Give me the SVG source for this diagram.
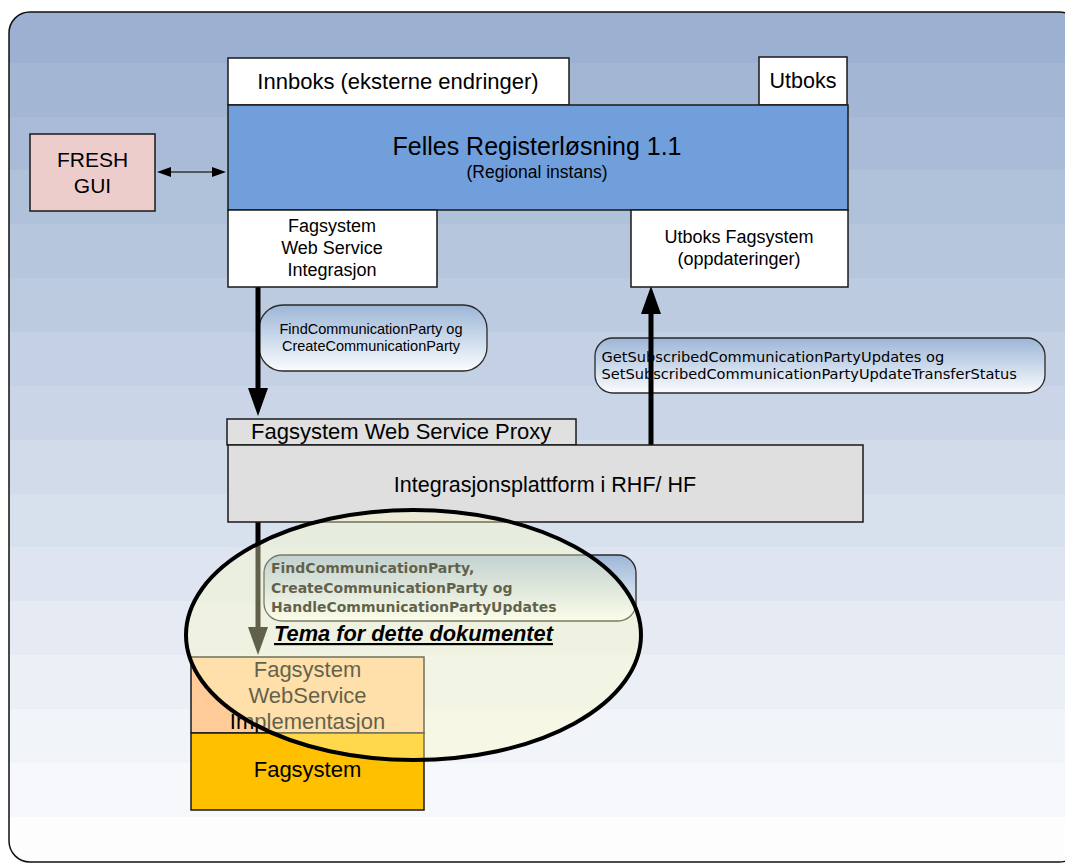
<svg xmlns="http://www.w3.org/2000/svg" width="1065" height="863" viewBox="0 0 1065 863">
  <style>
    .box { stroke: #1a1a1a; stroke-width: 1.5; }
    .white { fill: #ffffff; }
    .gray { fill: #dfdfdf; }
    .t { font-family: "Liberation Sans", Arial, sans-serif; fill: #000; }
    .mid { text-anchor: middle; }
    .callout { fill: url(#calloutFill); stroke: #2a2a2a; stroke-width: 1.3; }
    .v { font-family: "DejaVu Sans", Verdana, sans-serif; fill: #000; }
    .flow { stroke: #000; stroke-width: 5; fill: none; marker-end: url(#bigHead); }
  </style>
  <defs>
    <clipPath id="panelClip">
      <rect x="9" y="12" width="1071" height="850" rx="21" ry="21"/>
    </clipPath>
    <linearGradient id="calloutFill" x1="0" y1="0" x2="0" y2="1">
      <stop offset="0" stop-color="#9db6d7"/>
      <stop offset="0.55" stop-color="#cfdcec"/>
      <stop offset="1" stop-color="#fbfcfe"/>
    </linearGradient>
    <marker id="bigHead" viewBox="0 0 28 20" markerUnits="userSpaceOnUse" markerWidth="28" markerHeight="20" refX="1" refY="10" orient="auto">
      <path d="M0,0 L28,10 L0,20 Z" fill="#000"/>
    </marker>
    <marker id="smallHead" viewBox="0 0 14 10" markerUnits="userSpaceOnUse" markerWidth="14" markerHeight="10" refX="1" refY="5" orient="auto-start-reverse">
      <path d="M0,0 L14,5 L0,10 Z" fill="#000"/>
    </marker>
  </defs>

  <!-- banded background panel -->
  <g id="panel" clip-path="url(#panelClip)">
    <rect x="0" y="12" width="1080" height="51" fill="#9cb1d1"/>
    <rect x="0" y="63" width="1080" height="54" fill="#a3b6d4"/>
    <rect x="0" y="117" width="1080" height="53" fill="#a9bbd7"/>
    <rect x="0" y="170" width="1080" height="54" fill="#b0c1da"/>
    <rect x="0" y="224" width="1080" height="54" fill="#b6c6dd"/>
    <rect x="0" y="278" width="1080" height="54" fill="#bdcbe0"/>
    <rect x="0" y="332" width="1080" height="54" fill="#c4d0e3"/>
    <rect x="0" y="386" width="1080" height="54" fill="#cad5e7"/>
    <rect x="0" y="440" width="1080" height="54" fill="#d1dbea"/>
    <rect x="0" y="494" width="1080" height="53" fill="#d7e0ed"/>
    <rect x="0" y="547" width="1080" height="54" fill="#dee5f0"/>
    <rect x="0" y="601" width="1080" height="54" fill="#e5eaf3"/>
    <rect x="0" y="655" width="1080" height="54" fill="#ebeff6"/>
    <rect x="0" y="709" width="1080" height="54" fill="#f1f4f9"/>
    <rect x="0" y="763" width="1080" height="54" fill="#f7f8fb"/>
    <rect x="0" y="817" width="1080" height="50" fill="#fdfdfe"/>
  </g>
  <rect x="9" y="12" width="1071" height="850" rx="21" ry="21" fill="none" stroke="#111" stroke-width="1.5"/>

  <!-- connectors and their labels -->
  <g id="connectors">
    <line x1="170" y1="172" x2="213" y2="172" stroke="#333" stroke-width="1.5" marker-start="url(#smallHead)" marker-end="url(#smallHead)"/>

    <rect class="callout" x="259" y="305" width="228" height="66" rx="24" ry="24"/>
    <text class="t mid" font-size="14.5" x="371" y="334">FindCommunicationParty og</text>
    <text class="t mid" font-size="14.5" x="371" y="351">CreateCommunicationParty</text>
    <path class="flow" d="M258,287 V389"/>

    <rect class="callout" x="595" y="338" width="450" height="55" rx="18" ry="18"/>
    <text class="v" font-size="14.6" x="601.5" y="362">GetSubscribedCommunicationPartyUpdates og</text>
    <text class="v" font-size="14.6" x="601.5" y="379">SetSubscribedCommunicationPartyUpdateTransferStatus</text>
    <path class="flow" d="M651,446 V313" stroke-linecap="round"/>

    <rect class="callout" x="264" y="555" width="372" height="66" rx="18" ry="18"/>
    <text class="v" font-weight="bold" font-size="14" fill="#222" x="271" y="573">FindCommunicationParty,</text>
    <text class="v" font-weight="bold" font-size="14" fill="#222" x="271" y="593">CreateCommunicationParty og</text>
    <text class="v" font-weight="bold" font-size="14" fill="#222" x="271" y="612">HandleCommunicationPartyUpdates</text>
    <path class="flow" d="M258,522 V628"/>
  </g>

  <!-- register solution with inbox / outbox -->
  <g id="innboks">
    <rect class="box white" x="228" y="58" width="341" height="47"/>
    <text class="t mid" font-size="22" x="398" y="89">Innboks (eksterne endringer)</text>
  </g>
  <g id="utboks">
    <rect class="box white" x="759" y="57" width="88" height="48"/>
    <text class="t mid" font-size="21.5" x="803" y="88">Utboks</text>
  </g>
  <g id="felles-registerlosning">
    <rect class="box" x="228" y="105" width="620" height="105" fill="#709fdb"/>
    <text class="t mid" font-size="25" x="537" y="155">Felles Registerløsning 1.1</text>
    <text class="t mid" font-size="17.5" x="537" y="178">(Regional instans)</text>
  </g>
  <g id="fresh-gui">
    <rect class="box" x="30" y="134" width="125" height="77" fill="#edcdcc"/>
    <text class="t mid" font-size="21" x="92.5" y="167">FRESH</text>
    <text class="t mid" font-size="21" x="92.5" y="193">GUI</text>
  </g>
  <g id="fagsystem-ws-integrasjon">
    <rect class="box white" x="228" y="210" width="209" height="77"/>
    <text class="t mid" font-size="18" x="332" y="232">Fagsystem</text>
    <text class="t mid" font-size="18" x="332" y="254">Web Service</text>
    <text class="t mid" font-size="18" x="332" y="276">Integrasjon</text>
  </g>
  <g id="utboks-fagsystem">
    <rect class="box white" x="631" y="210" width="217" height="77"/>
    <text class="t mid" font-size="18" x="739" y="243">Utboks Fagsystem</text>
    <text class="t mid" font-size="18" x="739" y="265">(oppdateringer)</text>
  </g>

  <!-- integration platform -->
  <g id="ws-proxy">
    <rect class="box" x="227" y="419" width="349" height="26" fill="#e0e0e0"/>
    <text class="t" font-size="22" x="251" y="439">Fagsystem Web Service Proxy</text>
  </g>
  <g id="integrasjonsplattform">
    <rect class="box gray" x="228" y="445" width="635" height="77"/>
    <text class="t mid" font-size="21.5" x="545" y="492">Integrasjonsplattform i RHF/ HF</text>
  </g>

  <!-- local system -->
  <g id="ws-implementasjon">
    <rect class="box" x="191" y="657" width="233" height="76" fill="#ffcc99"/>
    <text class="t mid" font-size="22" fill="#222" x="307.5" y="677">Fagsystem</text>
    <text class="t mid" font-size="22" fill="#222" x="307.5" y="703">WebService</text>
    <text class="t mid" font-size="22" fill="#222" x="307.5" y="729">Implementasjon</text>
  </g>
  <g id="fagsystem">
    <rect class="box" x="191" y="733" width="233" height="77" fill="#ffc000"/>
    <text class="t mid" font-size="22" x="307.5" y="777">Fagsystem</text>
  </g>

  <!-- highlighted scope of the document -->
  <g id="tema">
    <ellipse cx="413.5" cy="635" rx="227.5" ry="125" fill="#ffffc4" fill-opacity="0.38" stroke="#000" stroke-width="4"/>
    <text class="t" font-size="21.8" font-weight="bold" font-style="italic" text-decoration="underline" x="274" y="641">Tema for dette dokumentet</text>
  </g>
</svg>
